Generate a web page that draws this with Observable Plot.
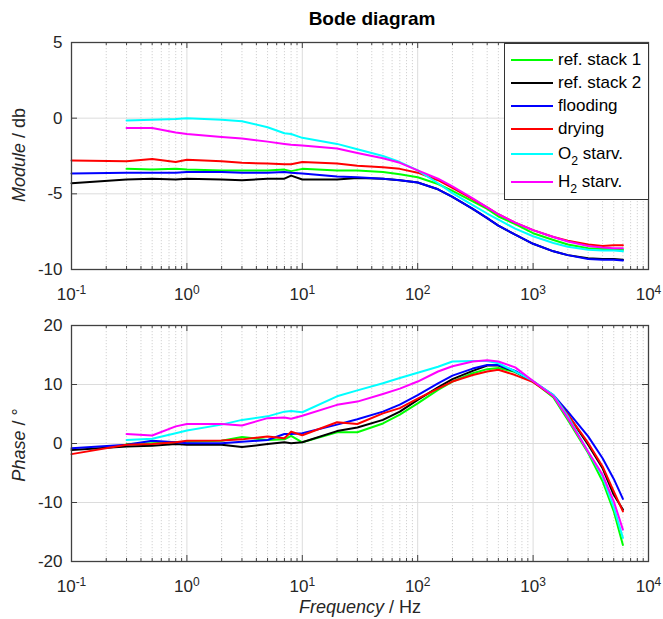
<!DOCTYPE html>
<html><head><meta charset="utf-8">
<script src="https://cdn.jsdelivr.net/npm/d3@7"></script>
<script src="https://cdn.jsdelivr.net/npm/@observablehq/plot@0.6"></script>
<style>
body{margin:0;background:#fff;font-family:"Liberation Sans",Arial,sans-serif;color:#262626;}
#wrap{position:relative;width:663px;height:619px;overflow:hidden;background:#fff;}
#wrap svg{position:absolute;left:0;}
.title{position:absolute;left:372px;top:8px;transform:translateX(-50%);font-weight:bold;font-size:19px;color:#000;white-space:nowrap;}
.ylab{position:absolute;transform:translate(-50%,-50%) rotate(-90deg);font-size:18px;white-space:nowrap;}
.xlab{position:absolute;transform:translate(-50%,-50%);font-size:18px;line-height:20px;white-space:nowrap;}
.legend{position:absolute;left:504px;top:43px;width:143px;height:155px;border:1px solid #333;background:#fff;}
.lrow{position:absolute;left:0;width:100%;height:0;}
.lline{position:absolute;left:6px;width:42px;height:2px;top:-1px;}
.ltext{position:absolute;left:53px;top:-10px;font-size:17px;line-height:20px;white-space:nowrap;color:#000;}
.ltext sub{font-size:0.72em;vertical-align:-0.45em;line-height:0;}
</style></head>
<body><div id="wrap"></div>
<script>
// ---- data ----
const freq = [0.1, 0.3, 0.5, 0.8, 1, 2, 3, 5, 7, 8, 10, 20, 30, 50, 70, 100, 150, 200, 300, 400, 500, 700, 1000, 1500, 2000, 3000, 4000, 5000, 6000];
const seriesNames = ["ref. stack 1", "ref. stack 2", "flooding", "drying", "O2 starv.", "H2 starv."];
const seriesColors = ["#00ff00", "#000000", "#0000ff", "#ff0000", "#00ffff", "#ff00ff"];

const moduleRef1     = [null, -3.35, -3.4, -3.35, -3.4, -3.45, -3.45, -3.45, -3.4, -3.5, -3.35, -3.45, -3.45, -3.55, -3.7, -3.9, -4.35, -4.8, -5.5, -6.0, -6.5, -7.0, -7.6, -8.05, -8.35, -8.6, -8.65, -8.65, -8.7];
const moduleRef2     = [-4.3, -4.05, -4.0, -4.05, -4.0, -4.05, -4.1, -4.0, -4.0, -3.8, -4.05, -4.05, -3.95, -4.0, -4.1, -4.25, -4.7, -5.2, -6.0, -6.6, -7.1, -7.7, -8.3, -8.8, -9.05, -9.25, -9.3, -9.3, -9.35];
const moduleFlooding = [-3.65, -3.6, -3.6, -3.6, -3.55, -3.55, -3.6, -3.6, -3.55, -3.6, -3.65, -3.85, -3.9, -4.0, -4.1, -4.25, -4.7, -5.2, -6.0, -6.6, -7.1, -7.7, -8.3, -8.8, -9.05, -9.3, -9.35, -9.35, -9.4];
const moduleDrying   = [-2.8, -2.85, -2.7, -2.9, -2.75, -2.85, -2.95, -3.0, -3.05, -3.05, -2.9, -3.0, -3.15, -3.25, -3.35, -3.6, -4.1, -4.6, -5.35, -5.9, -6.35, -6.9, -7.4, -7.85, -8.1, -8.35, -8.45, -8.4, -8.4];
const moduleO2       = [null, -0.15, -0.1, -0.05, 0, -0.1, -0.2, -0.6, -1.0, -1.05, -1.3, -1.7, -2.05, -2.5, -2.9, -3.45, -4.3, -4.95, -5.75, -6.3, -6.7, -7.3, -7.8, -8.25, -8.5, -8.7, -8.75, -8.75, -8.8];
const moduleH2       = [null, -0.65, -0.65, -0.95, -1.05, -1.25, -1.35, -1.55, -1.7, -1.75, -1.8, -2.0, -2.3, -2.65, -2.95, -3.45, -4.0, -4.5, -5.3, -5.9, -6.35, -6.9, -7.4, -7.85, -8.15, -8.45, -8.55, -8.6, -8.6];

const phaseRef1     = [null, -0.1, 0.05, 0.2, 0.3, 0.45, 1.1, 0.6, 0.7, 1.3, 0.2, 1.9, 1.9, 3.4, 4.9, 6.8, 9.1, 10.5, 11.9, 12.6, 12.8, 12.1, 10.5, 7.8, 4.0, -1.6, -6.4, -11.5, -17.2];
const phaseRef2     = [-1.1, -0.5, -0.4, -0.1, -0.2, -0.2, -0.6, -0.1, 0.2, 0.05, 0.2, 2.1, 2.7, 4.0, 5.4, 7.4, 9.5, 10.9, 12.3, 13.2, 13.2, 12.2, 10.5, 8.1, 4.9, -0.2, -4.2, -8.7, -11.2];
const phaseFlooding = [-0.8, -0.2, 0.45, 0.2, 0.05, 0.05, 0.3, 0.6, 1.6, 1.6, 1.75, 3.2, 4.1, 5.4, 6.6, 8.2, 10.2, 11.5, 12.7, 13.3, 13.3, 12.3, 10.5, 8.2, 5.4, 1.2, -2.5, -6.0, -9.4];
const phaseDrying   = [-1.8, -0.2, -0.1, 0.2, 0.45, 0.5, 0.7, 1.2, 0.9, 2.0, 1.4, 3.6, 3.3, 5.1, 6.0, 7.6, 9.3, 10.5, 11.6, 12.2, 12.5, 11.6, 10.4, 8.0, 4.9, 0.1, -3.9, -8.1, -11.5];
const phaseO2       = [null, 0.6, 0.8, 1.75, 2.2, 3.2, 4.0, 4.6, 5.4, 5.5, 5.3, 8.0, 9.0, 10.2, 11.1, 12.0, 13.0, 13.9, 14.0, 14.0, 13.6, 12.2, 10.6, 8.2, 4.6, -1.4, -5.6, -10.8, -16.0];
const phaseH2       = [null, 1.6, 1.35, 2.9, 3.3, 3.3, 3.05, 4.3, 4.4, 4.2, 4.7, 6.55, 7.1, 8.4, 9.3, 10.5, 12.2, 13.1, 13.9, 14.1, 13.9, 12.9, 10.6, 8.0, 4.3, -1.4, -5.3, -9.8, -14.6];

const majorX = [0.1, 1, 10, 100, 1000, 10000];
const minorX = [-1, 0, 1, 2, 3].flatMap(e => [2, 3, 4, 5, 6, 7, 8, 9].map(k => k * Math.pow(10, e)));
const moduleTicks = [-10, -5, 0, 5];
const phaseTicks = [-20, -10, 0, 10, 20];

// ---- layout ----
const W = 663, ML = 71, MR = 15;
const wrap = document.getElementById("wrap");
const NS = "http://www.w3.org/2000/svg";

function panel(values, yTicks, height, mt, mb, top) {
  const rows = [];
  seriesNames.forEach((name, i) => values[i].forEach((v, j) => {
    if (v != null) rows.push({series: name, f: freq[j], v});
  }));
  const ph = height - mt - mb, pw = W - ML - MR;
  const dark = "#404040";
  const svg = Plot.plot({
    width: W, height, marginTop: mt, marginBottom: mb, marginLeft: ML, marginRight: MR,
    style: {fontFamily: '"Liberation Sans", Arial, sans-serif', fontSize: "17px", color: "#262626", background: "transparent", overflow: "visible"},
    x: {type: "log", domain: [0.1, 1e4], axis: null, label: null},
    y: {domain: [yTicks[0], yTicks[yTicks.length - 1]], axis: null, label: null},
    color: {domain: seriesNames, range: seriesColors},
    marks: [
      Plot.ruleX(minorX, {stroke: "#c6c6c6", strokeWidth: 0.8, strokeDasharray: "1.2,1.8"}),
      Plot.ruleX(majorX.slice(1, -1), {stroke: "#dcdcdc", strokeWidth: 1}),
      Plot.ruleY(yTicks.slice(1, -1), {stroke: "#dcdcdc", strokeWidth: 1}),
      ...seriesNames.map(name => Plot.line(rows.filter(r => r.series === name), {x: "f", y: "v", stroke: "series", strokeWidth: 2})),
      Plot.ruleX(minorX, {stroke: dark, insetTop: ph - 3}),
      Plot.ruleX(minorX, {stroke: dark, insetBottom: ph - 3}),
      Plot.ruleX(majorX, {stroke: dark, insetTop: ph - 6}),
      Plot.ruleX(majorX, {stroke: dark, insetBottom: ph - 6}),
      Plot.ruleY(yTicks, {stroke: dark, insetRight: pw - 6}),
      Plot.ruleY(yTicks, {stroke: dark, insetLeft: pw - 6}),
      Plot.frame({stroke: dark, strokeWidth: 1.3}),
      Plot.axisX(majorX, {tickSize: 0, tickPadding: 18, label: null, tickFormat: d => String(Math.round(Math.log10(d)))}),
      Plot.axisY(yTicks, {tickSize: 0, tickPadding: 9, label: null, tickFormat: d => String(d)})
    ]
  });
  svg.style.top = top + "px";
  svg.querySelectorAll('[aria-label="x-axis tick label"] text').forEach(t => {
    const e = t.textContent;
    t.textContent = "";
    const base = document.createElementNS(NS, "tspan");
    base.textContent = "10";
    const sup = document.createElementNS(NS, "tspan");
    sup.textContent = e;
    sup.setAttribute("dy", "-0.45em");
    sup.setAttribute("font-size", "12px");
    t.appendChild(base);
    t.appendChild(sup);
  });
  wrap.appendChild(svg);
}

panel([moduleRef1, moduleRef2, moduleFlooding, moduleDrying, moduleO2, moduleH2], moduleTicks, 310, 42, 41, 0);
panel([phaseRef1, phaseRef2, phaseFlooding, phaseDrying, phaseO2, phaseH2], phaseTicks, 309, 15, 58, 310);

// ---- texts ----
function addDiv(cls, html, style) {
  const d = document.createElement("div");
  d.className = cls; d.innerHTML = html;
  Object.assign(d.style, style);
  wrap.appendChild(d);
  return d;
}
addDiv("title", "Bode diagram", {});
addDiv("ylab", "<i>Module</i> / db", {left: "19px", top: "155px"});
addDiv("ylab", "<i>Phase</i> / °", {left: "19px", top: "445px"});
addDiv("xlab", "<i>Frequency</i> / Hz", {left: "360px", top: "607px"});

// ---- legend ----
const legend = addDiv("legend", "", {});
const rowCenters = [16, 39, 62, 85, 110, 138];
seriesNames.forEach((name, i) => {
  const row = document.createElement("div");
  row.className = "lrow";
  row.style.top = rowCenters[i] + "px";
  const line = document.createElement("div");
  line.className = "lline";
  line.style.background = seriesColors[i];
  const txt = document.createElement("div");
  txt.className = "ltext";
  txt.innerHTML = name.replace(/^([OH])2/, "$1<sub>2</sub>");
  row.appendChild(line); row.appendChild(txt);
  legend.appendChild(row);
});
</script>
</body></html>
